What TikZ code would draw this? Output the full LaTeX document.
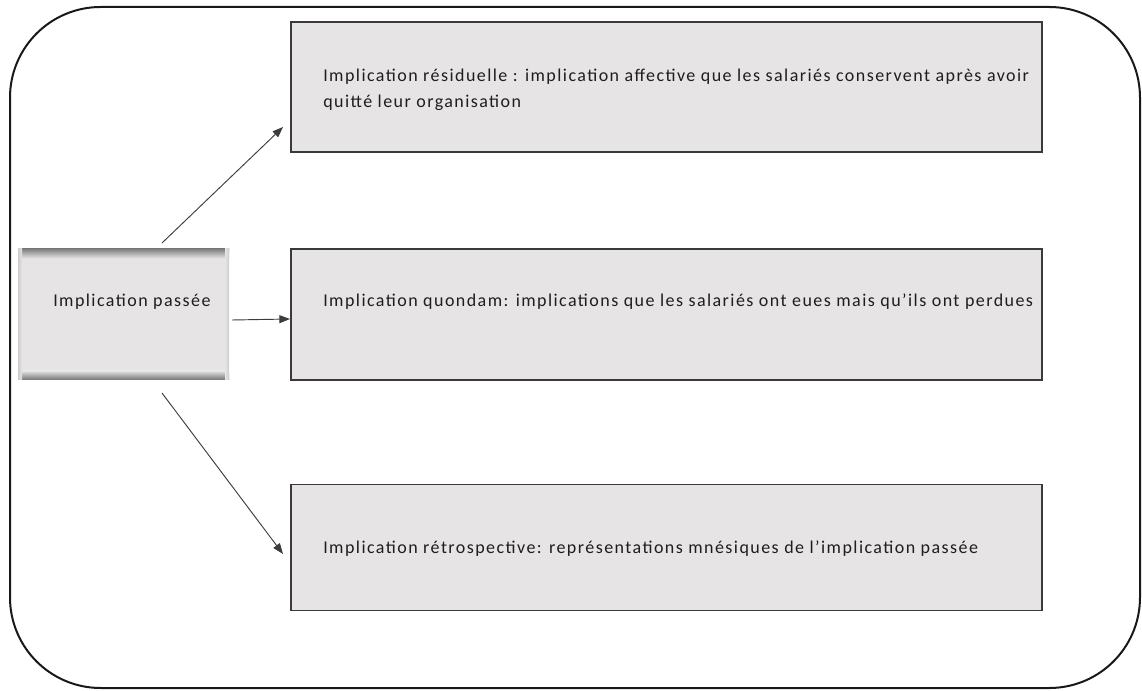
\documentclass[tikz,border=0pt]{standalone}
\usepackage{fontspec}
\setmainfont{Carlito}[LetterSpace=8]
\usetikzlibrary{arrows.meta}
\definecolor{boxfill}{HTML}{E6E4E5}
\definecolor{boxline}{HTML}{3A3A3A}
\definecolor{txt}{HTML}{1E1E1E}
\definecolor{arr}{HTML}{3C3C3C}
\begin{document}
\begin{tikzpicture}[x=0.75pt,y=-0.75pt,
  outerframe/.style={draw=black!90, line width=1.5pt, rounded corners=68pt},
  descbox/.style={draw=boxline, line width=1.3pt, fill=boxfill, minimum width=563.25pt, inner sep=0pt, outer sep=0pt},
  srcbox/.style={fill=boxfill, minimum width=158.25pt, minimum height=98.25pt, inner sep=0pt, outer sep=0pt},
  lbl/.style={font=\fontsize{13.5}{19.5}\selectfont, text=txt, inner sep=0pt, anchor=base west, align=left},
  conn/.style={draw=arr, line width=0.7pt, -{Triangle[length=8pt,width=6pt]}}
]
\useasboundingbox (0,0) rectangle (1142,691);
\draw[outerframe] (10,7) rectangle (1140,688);

% source box
\node[srcbox] (src) at (123.5,314.5) {};
\shade[top color=black!50, bottom color=boxfill] (src.north west) rectangle ([yshift=-7pt]src.north east);
\shade[top color=boxfill, bottom color=black!55] ([yshift=7pt]src.south west) rectangle (src.south east);
\shade[left color=black!20, right color=boxfill] (src.north west) rectangle ([xshift=3pt]src.south west);
\shade[left color=boxfill, right color=black!20] ([xshift=-3pt]src.north east) rectangle (src.south east);
\node[lbl] (srct) at (53,307) {Implication passée};

% target boxes
\node[descbox, minimum height=97.5pt] (b1) at (666.5,87) {};
\node[descbox, minimum height=98pt] (b2) at (666.5,314.5) {};
\node[descbox, minimum height=94.5pt] (b3) at (666.5,547.5) {};

\node[lbl] (t1) at (323,108) {Implication résiduelle : implication affective que les salariés conservent après avoir\\quitté leur organisation};
\node[lbl] (t2) at (323,307) {Implication quondam: implications que les salariés ont eues mais qu’ils ont perdues};
\node[lbl] (t3) at (323,553) {Implication rétrospective: représentations mnésiques de l’implication passée};

% connectors
\coordinate (s1) at (162,243);
\coordinate (e1) at (283,127);
\coordinate (s2) at (232,320);
\coordinate (e2) at (290,319);
\coordinate (s3) at (162,393);
\coordinate (e3) at (283,554);
\draw[conn] (s1) -- (e1);
\draw[conn] (s2) -- (e2);
\draw[conn] (s3) -- (e3);
\end{tikzpicture}
\end{document}
